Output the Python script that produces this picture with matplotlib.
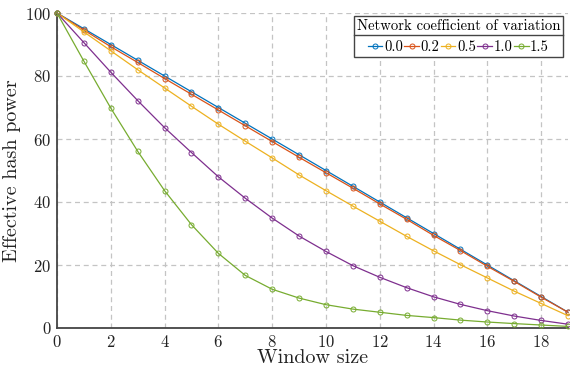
import matplotlib
matplotlib.use("Agg")
import matplotlib.pyplot as plt
from matplotlib.lines import Line2D

plt.rcParams['font.family'] = ['cmr10', 'DejaVu Serif']
plt.rcParams['axes.formatter.use_mathtext'] = True
plt.rcParams['mathtext.fontset'] = 'cm'

window = list(range(20))
labels = ["0.0", "0.2", "0.5", "1.0", "1.5"]
cv00 = [100, 95, 90, 85, 80, 75, 70, 65, 60, 55, 50, 45, 40, 35, 30, 25, 20, 15, 10, 5]
cv02 = [100, 94.6, 89.3, 84.3, 79.2, 74.2, 69.2, 64.2, 59.2, 54.2, 49.3, 44.4, 39.4, 34.5, 29.4, 24.6, 19.6, 14.8, 9.8, 5.0]
cv05 = [100, 94.0, 88.0, 82.0, 76.2, 70.4, 64.7, 59.3, 54.0, 48.6, 43.6, 38.7, 33.9, 29.1, 24.5, 20.1, 15.9, 11.7, 7.8, 3.9]
cv10 = [100, 90.6, 81.2, 72.2, 63.6, 55.7, 48.0, 41.2, 34.9, 29.2, 24.3, 19.8, 16.1, 12.8, 9.9, 7.5, 5.5, 3.8, 2.4, 1.2]
cv15 = [100, 84.7, 69.8, 56.1, 43.6, 32.8, 23.7, 16.7, 12.3, 9.5, 7.4, 6.0, 5.0, 4.0, 3.3, 2.5, 1.9, 1.4, 0.95, 0.5]
series = [cv00, cv02, cv05, cv10, cv15]
colors = ["#0072BD", "#D95319", "#EDB120", "#7E2F8E", "#77AC30"]

fig = plt.figure(figsize=(5.70, 3.71), dpi=100)
ax = fig.add_axes([57/570, 1-328/371, (568-57)/570, (328-13)/371])

for ys, lab, c in zip(series, labels, colors):
    ax.plot(window, ys, color=c, lw=0.9, marker='o', ms=3.6, mfc='none',
            mec=c, mew=0.7, label=lab, clip_on=False, zorder=3)

ax.set_xlim(0, 19)
ax.set_ylim(0, 100)
ax.set_xticks(range(0, 19, 2))
ax.set_yticks(range(0, 101, 20))
ax.grid(True, color='#c4c4c4', linestyle=(0, (4, 3)), lw=0.9)
ax.set_axisbelow(True)
for s in ['top', 'right']:
    ax.spines[s].set_visible(False)
for s in ['left', 'bottom']:
    ax.spines[s].set_color('#444444')
    ax.spines[s].set_linewidth(1.3)
ax.tick_params(length=0, labelsize=12, pad=4, colors='#222222')
ax.set_xlabel("Window size", fontsize=14.5, labelpad=0, color='#222222')
ax.set_ylabel("Effective hash power", fontsize=14.5, labelpad=3, color='#222222')

leg = ax.legend(ncol=5, title="Network coefficient of variation", loc='upper right',
                bbox_to_anchor=(1.0 - 5/511, 0.99), fontsize=10.6, title_fontsize=10.6,
                handlelength=1.0, handletextpad=0.1, columnspacing=0.1,
                borderpad=0.2, borderaxespad=0, fancybox=False, framealpha=1,
                edgecolor='#444444')
leg.get_frame().set_linewidth(1.0)
leg.set_zorder(5)

fig.canvas.draw()
r = fig.canvas.get_renderer()
fb = leg.get_frame().get_window_extent(r)
tb = leg.get_title().get_window_extent(r)
ysep = tb.y0 - 2
fig.add_artist(Line2D([fb.x0 / fig.bbox.width, fb.x1 / fig.bbox.width],
                      [ysep / fig.bbox.height, ysep / fig.bbox.height],
                      color='#444444', lw=1.0, transform=fig.transFigure, zorder=6))

fig.savefig("out.png", dpi=100)
